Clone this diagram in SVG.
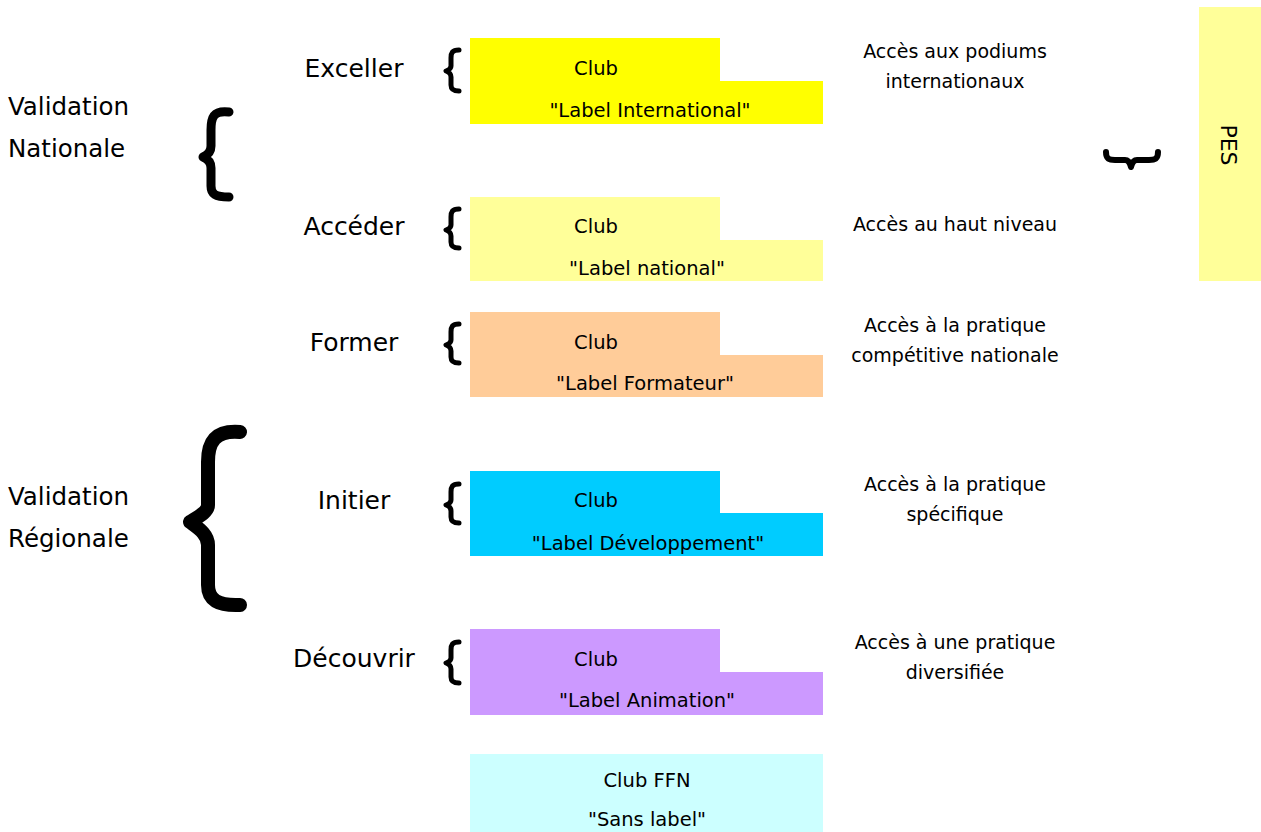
<svg xmlns="http://www.w3.org/2000/svg" width="1261" height="832" viewBox="0 0 1261 832">
<style>
text{font-family:"DejaVu Sans","Liberation Sans",sans-serif;fill:#000}
.lvl{font-size:25px;text-anchor:middle}
.val{font-size:24.5px}
.club{font-size:19.5px;text-anchor:middle}
.acc{font-size:19px;text-anchor:middle}
.br{fill:none;stroke:#000;stroke-linecap:round;stroke-linejoin:round}
</style>
<rect width="1261" height="832" fill="#fff"/>
<g id="validation-nationale">
<text class="val" x="8" y="115">Validation</text>
<text class="val" x="8" y="157">Nationale</text>
<path class="br" stroke-width="9" d="M229,112 C213,110 211,118 211,130 L211,146 C211,152 208,155 203,157 C208,159 211,162 211,168 L211,186 C211,194 215,197 229,197"/>
</g>
<g id="validation-regionale">
<text class="val" x="8" y="505">Validation</text>
<text class="val" x="8" y="547">Régionale</text>
<path class="br" stroke-width="14" d="M240,432 C215,430 208,442 208,462 L208,505 C208,512 198,517 190,522 C198,528 208,534 208,545 L208,585 C208,600 218,606 240,605"/>
</g>
<g id="exceller">
<text class="lvl" x="354" y="77">Exceller</text>
<path class="br" stroke-width="5" d="M459,50 C452,50 451,53 451,58 L451,66 C451,68 449,70 446,71 C449,72 451,74 451,77 L451,85 C451,89 453,91 459,91"/>
<path d="M470,38 H720 V81 H823 V124 H470 Z" fill="#ffff00"/>
<text class="club" x="596" y="75">Club</text>
<text class="club" x="650" y="117">"Label International"</text>
<text class="acc" x="955" y="58">Accès aux podiums</text>
<text class="acc" x="955" y="88">internationaux</text>
</g>
<g id="acceder">
<text class="lvl" x="354" y="235">Accéder</text>
<path class="br" stroke-width="5" d="M459,209 C452,209 451,212 451,217 L451,225 C451,227 449,229 446,230 C449,231 451,233 451,236 L451,242 C451,246 453,248 459,248"/>
<path d="M470,197 H720 V240 H823 V281 H470 Z" fill="#ffff99"/>
<text class="club" x="596" y="233">Club</text>
<text class="club" x="647" y="275">"Label national"</text>
<text class="acc" x="955" y="231">Accès au haut niveau</text>
</g>
<g id="former">
<text class="lvl" x="354" y="351">Former</text>
<path class="br" stroke-width="5" d="M459,324 C452,324 451,327 451,332 L451,340 C451,342 449,344 446,345 C449,346 451,348 451,351 L451,357 C451,361 453,363 459,363"/>
<path d="M470,312 H720 V355 H823 V397 H470 Z" fill="#ffcc99"/>
<text class="club" x="596" y="349">Club</text>
<text class="club" x="645" y="390">"Label Formateur"</text>
<text class="acc" x="955" y="332">Accès à la pratique</text>
<text class="acc" x="955" y="362">compétitive nationale</text>
</g>
<g id="initier">
<text class="lvl" x="354" y="509">Initier</text>
<path class="br" stroke-width="5" d="M459,484 C452,484 451,487 451,492 L451,500 C451,502 449,504 446,505 C449,506 451,508 451,511 L451,517 C451,521 453,523 459,523"/>
<path d="M470,471 H720 V513 H823 V556 H470 Z" fill="#00ccff"/>
<text class="club" x="596" y="507">Club</text>
<text class="club" x="648" y="550">"Label Développement"</text>
<text class="acc" x="955" y="491">Accès à la pratique</text>
<text class="acc" x="955" y="521">spécifique</text>
</g>
<g id="decouvrir">
<text class="lvl" x="354" y="667">Découvrir</text>
<path class="br" stroke-width="5" d="M459,642 C452,642 451,645 451,650 L451,658 C451,660 449,662 446,663 C449,664 451,666 451,669 L451,677 C451,681 453,683 459,683"/>
<path d="M470,629 H720 V672 H823 V715 H470 Z" fill="#cc99ff"/>
<text class="club" x="596" y="666">Club</text>
<text class="club" x="647" y="707">"Label Animation"</text>
<text class="acc" x="955" y="649">Accès à une pratique</text>
<text class="acc" x="955" y="679">diversifiée</text>
</g>
<g id="sans-label">
<rect x="470" y="754" width="353" height="78" fill="#ccffff"/>
<text class="club" x="647" y="787">Club FFN</text>
<text class="club" x="647" y="826">"Sans label"</text>
</g>
<g id="pes">
<path class="br" stroke-width="6" d="M1106,152 C1106,159 1109,160 1115,160 L1125,160 C1128,160 1130,163 1131,167 C1132,163 1134,160 1137,160 L1149,160 C1155,160 1158,159 1158,152"/>
<rect x="1199" y="7" width="62" height="274" fill="#ffff99"/>
<text x="1221" y="145" font-size="22" text-anchor="middle" transform="rotate(90 1221 145)">PES</text>
</g>
<g id="connectors"></g>
</svg>
